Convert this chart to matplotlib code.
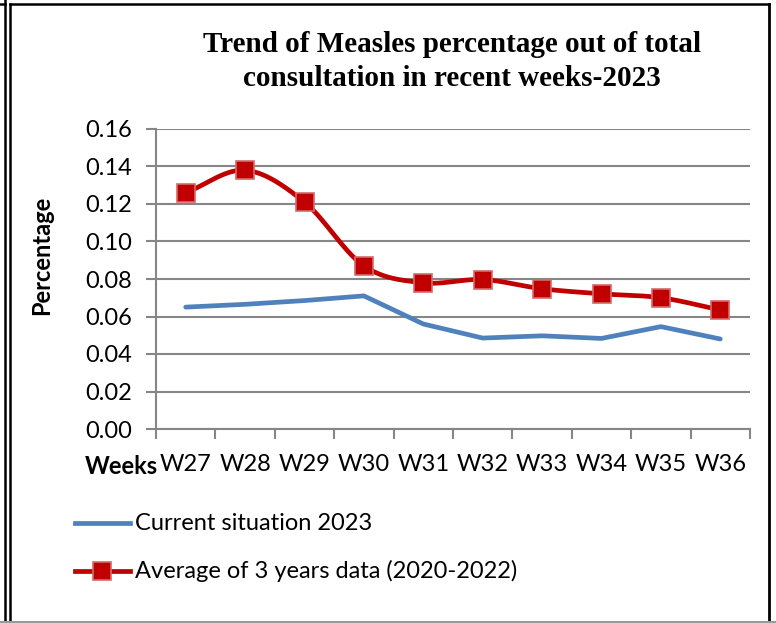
import matplotlib
matplotlib.use('Agg')
import matplotlib.pyplot as plt
from matplotlib.lines import Line2D
import numpy as np

weeks = ['W27', 'W28', 'W29', 'W30', 'W31', 'W32', 'W33', 'W34', 'W35', 'W36']
current_2023 = [0.065, 0.0665, 0.0685, 0.071, 0.056, 0.0485, 0.0497, 0.0483, 0.0546, 0.048]
avg_3yr = [0.126, 0.138, 0.121, 0.087, 0.078, 0.0797, 0.0748, 0.0721, 0.0700, 0.0635]


def smooth(x, y, n=30):
    # catmull-rom like excel "smoothed line"
    x = np.asarray(x, float)
    y = np.asarray(y, float)
    px = np.concatenate([[2 * x[0] - x[1]], x, [2 * x[-1] - x[-2]]])
    py = np.concatenate([[2 * y[0] - y[1]], y, [2 * y[-1] - y[-2]]])
    xs, ys = [], []
    t = np.linspace(0, 1, n)
    for i in range(1, len(px) - 2):
        for p, out in ((px, xs), (py, ys)):
            p0, p1, p2, p3 = p[i - 1], p[i], p[i + 1], p[i + 2]
            out.extend(0.5 * ((2 * p1) + (-p0 + p2) * t
                              + (2 * p0 - 5 * p1 + 4 * p2 - p3) * t ** 2
                              + (-p0 + 3 * p1 - 3 * p2 + p3) * t ** 3))
    return np.array(xs), np.array(ys)


fig = plt.figure(figsize=(7.76, 6.23), dpi=100)
ax = fig.add_axes([156 / 776, 1 - 429 / 623, 594 / 776, 300 / 623])

xpos = np.arange(len(weeks)) + 0.5
grey = '#868686'
tfont = 'Lato'
blue_lw, red_lw, msz = 3.4, 3.4, 12.5

ax.plot(xpos, current_2023, color='#4F81BD', lw=blue_lw, solid_capstyle='round',
        label='Current situation 2023', zorder=3)
sx, sy = smooth(xpos, avg_3yr)
ax.plot(sx, sy, color='#C00000', lw=red_lw, zorder=3)
ax.plot(xpos, avg_3yr, ls='none', marker='s', ms=msz, mfc='#C00000',
        mec='#D46A6A', mew=1.2, zorder=4)

ax.set_xlim(0, len(weeks))
ax.set_ylim(0, 0.16)
ax.set_yticks(np.arange(0, 0.161, 0.02))
ax.set_yticklabels(['%.2f' % v for v in np.arange(0, 0.161, 0.02)],
                   fontsize=17, family=tfont)
ax.set_xticks(np.arange(0, len(weeks) + 1))
ax.set_xticklabels([])
ax.set_xticks(xpos, minor=True)
ax.set_xticklabels(weeks, minor=True, fontsize=17, family=tfont)
ax.tick_params(axis='x', which='minor', length=0, pad=18)
ax.tick_params(axis='x', which='major', length=7, width=1.5, color=grey, direction='out')
ax.tick_params(axis='y', length=7, width=1.5, color=grey, direction='out', pad=10)
ax.grid(axis='y', color=grey, lw=1.5)
ax.set_axisbelow(True)
for s in ['top', 'right']:
    ax.spines[s].set_visible(False)
for s in ['left', 'bottom']:
    ax.spines[s].set_color(grey)
    ax.spines[s].set_linewidth(1.5)

fig.text(452 / 776, 1 - 45 / 623, 'Trend of Measles percentage out of total',
         ha='center', va='center', fontsize=21, fontweight='bold', family='Liberation Serif')
fig.text(452 / 776, 1 - 78 / 623, 'consultation in recent weeks-2023',
         ha='center', va='center', fontsize=21, fontweight='bold', family='Liberation Serif')
fig.text(42 / 776, 1 - 255 / 623, 'Percentage', rotation=90, ha='center', va='center',
         fontsize=17, fontweight='bold', family=tfont)
fig.text(121 / 776, 1 - 466 / 623, 'Weeks', ha='center', va='center',
         fontsize=17, fontweight='bold', family=tfont)

# legend
fig.add_artist(Line2D([75 / 776, 130 / 776], [1 - 523 / 623] * 2, color='#4F81BD', lw=blue_lw))
fig.text(135 / 776, 1 - 523 / 623, 'Current situation 2023', va='center',
         fontsize=17, family=tfont)
fig.add_artist(Line2D([75 / 776, 130 / 776], [1 - 571 / 623] * 2, color='#C00000', lw=red_lw))
fig.add_artist(Line2D([102 / 776], [1 - 571 / 623], ls='none', marker='s', ms=msz,
                      mfc='#C00000', mec='#D46A6A', mew=1.2))
fig.text(135 / 776, 1 - 571 / 623, 'Average of 3 years data (2020-2022)', va='center',
         fontsize=17, family=tfont)

# frame
fig.add_artist(Line2D([5 / 776] * 2, [0, 1], color='black', lw=1.8))
fig.add_artist(Line2D([0, 5 / 776], [1 - 4 / 623] * 2, color='black', lw=1.8))
fig.add_artist(Line2D([10 / 776] * 2, [0, 1 - 4 / 623], color='black', lw=1.8))
fig.add_artist(Line2D([10 / 776, 769 / 776], [1 - 4 / 623] * 2, color='black', lw=1.8))
fig.add_artist(Line2D([769 / 776] * 2, [0, 1 - 4 / 623], color='black', lw=2))
fig.add_artist(Line2D([0, 1], [1 / 623] * 2, color='#999999', lw=1.5))

fig.savefig('out.png', dpi=100)
